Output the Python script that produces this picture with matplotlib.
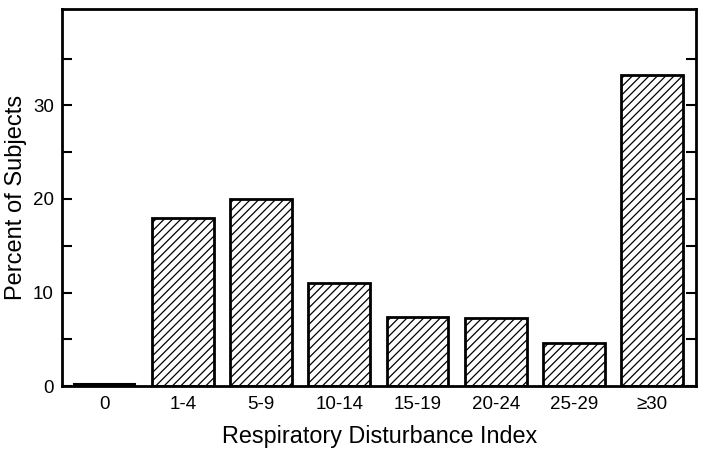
import matplotlib.pyplot as plt

categories = ["0", "1-4", "5-9", "10-14", "15-19", "20-24", "25-29", "\u226530"]
percent = [0.25, 18, 20, 11, 7.4, 7.3, 4.6, 33.2]

plt.rcParams['font.family'] = ['Liberation Sans', 'DejaVu Sans']
plt.rcParams['hatch.linewidth'] = 0.9

fig = plt.figure(figsize=(7.08, 4.49), dpi=100)
ax = fig.add_axes([0.088, 0.140, 0.895, 0.840])

x = list(range(len(categories)))
for i, v in enumerate(percent):
    if i == 0:
        ax.bar(i, v, width=0.79, color="black", edgecolor="black", linewidth=1.5)
    else:
        ax.bar(i, v, width=0.79, color="white", edgecolor="black",
               hatch="////", linewidth=2)

ax.set_xlim(-0.54, 7.56)
ax.set_ylim(0, 40.3)
ax.set_xticks(x)
ax.set_xticklabels(categories, fontsize=13.5)
ax.set_yticks([0, 10, 20, 30])
ax.set_yticks([5, 15, 25, 35], minor=True)
ax.tick_params(axis="y", which="both", direction="in", right=True, labelsize=13.5,
               length=7, width=1.5, pad=6)
ax.tick_params(axis="x", length=0, pad=7)
for s in ax.spines.values():
    s.set_linewidth(2)

ax.set_ylabel("Percent of Subjects", fontsize=17, labelpad=4)
ax.set_xlabel("Respiratory Disturbance Index", fontsize=16.8, labelpad=9)

fig.savefig("out.png", dpi=100)
